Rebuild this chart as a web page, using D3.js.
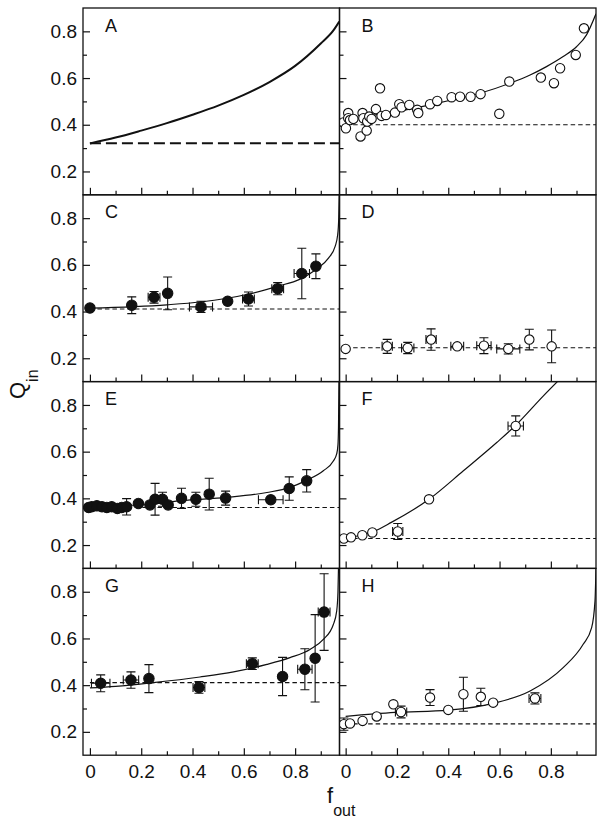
<!DOCTYPE html>
<html><head><meta charset="utf-8">
<script src="https://cdn.jsdelivr.net/npm/d3@7"></script>
<style>body{margin:0;background:#fff}svg{display:block}text{font-family:"Liberation Sans",Arial,Helvetica,sans-serif;fill:#111}</style>
</head><body>
<script>
// ---------- data ----------
const panelLabels = ["A","B","C","D","E","F","G","H"];
const filledPanels = ["C","E","G"];
const dashLevels = [0.321, 0.40, 0.411, 0.245, 0.361, 0.228, 0.411, 0.234];
const xTickLabels = [0, 0.2, 0.4, 0.6, 0.8];
const xMinorTicks = [0.1, 0.3, 0.5, 0.7, 0.9];
const yTickLabels = [0.2, 0.4, 0.6, 0.8];
const yMinorTicks = [0.3, 0.5, 0.7];

const curveA = [[0,0.32],[0.1,0.345],[0.2,0.375],[0.3,0.407],[0.4,0.443],[0.5,0.482],[0.6,0.528],[0.7,0.583],[0.8,0.652],[0.9,0.748],[0.95,0.805],[0.972,0.842]];
const curveB = [[0,0.41],[0.069,0.432],[0.199,0.456],[0.329,0.485],[0.413,0.506],[0.524,0.535],[0.641,0.578],[0.719,0.613],[0.783,0.649],[0.848,0.692],[0.9,0.734],[0.939,0.785],[0.976,0.875]];
const curveC = [[0,0.415],[0.3,0.429],[0.43,0.441],[0.62,0.475],[0.73,0.508],[0.82,0.539],[0.88,0.579],[0.93,0.629],[0.956,0.679],[0.966,0.73],[0.970,0.8],[0.972,0.9]];
const curveD = [];
const curveE = [[0,0.361],[0.127,0.368],[0.255,0.378],[0.357,0.39],[0.533,0.404],[0.69,0.425],[0.78,0.447],[0.84,0.475],[0.91,0.518],[0.949,0.56],[0.962,0.59],[0.967,0.63],[0.969,0.7],[0.970,0.8],[0.971,0.9]];
const curveF = [[0,0.228],[0.05,0.24],[0.108,0.258],[0.178,0.297],[0.325,0.396],[0.459,0.518],[0.589,0.639],[0.663,0.713],[0.77,0.838],[0.83,0.905]];
const curveG = [[0,0.388],[0.1,0.395],[0.247,0.411],[0.429,0.435],[0.56,0.457],[0.69,0.489],[0.78,0.518],[0.858,0.553],[0.91,0.596],[0.949,0.66],[0.962,0.717],[0.967,0.8],[0.969,0.9]];
const curveH = [[0,0.266],[0.192,0.283],[0.4,0.293],[0.575,0.322],[0.719,0.375],[0.848,0.475],[0.926,0.575],[0.959,0.646],[0.972,0.76],[0.976,0.9]];

// points: [f_out, Q_in, xErr, yErr]
const pointsA = [];
const pointsB = [[-0.009,0.41,0,0],[0.001,0.385,0,0],[0.01,0.45,0,0],[0.01,0.428,0,0],[0.017,0.42,0,0],[0.03,0.425,0,0],[0.058,0.35,0,0],[0.066,0.45,0,0],[0.069,0.428,0,0],[0.082,0.375,0,0],[0.084,0.414,0,0],[0.092,0.435,0,0],[0.101,0.425,0,0],[0.118,0.467,0,0],[0.134,0.556,0,0],[0.14,0.438,0,0],[0.157,0.442,0,0],[0.192,0.452,0,0],[0.209,0.488,0,0],[0.218,0.475,0,0],[0.248,0.485,0,0],[0.279,0.464,0,0],[0.283,0.45,0,0],[0.329,0.488,0,0],[0.357,0.502,0,0],[0.413,0.518,0,0],[0.446,0.52,0,0],[0.487,0.52,0,0],[0.526,0.531,0,0],[0.599,0.447,0,0],[0.638,0.585,0,0],[0.761,0.602,0,0],[0.812,0.578,0,0],[0.836,0.642,0,0],[0.897,0.699,0,0],[0.929,0.813,0,0]];
const pointsC = [[0,0.415,0,0],[0.163,0.427,0,0.036],[0.25,0.461,0.023,0.025],[0.303,0.478,0,0.07],[0.433,0.42,0.045,0.024],[0.537,0.444,0,0],[0.618,0.454,0.023,0.03],[0.732,0.498,0.023,0.026],[0.826,0.563,0.03,0.108],[0.881,0.594,0,0.053]];
const pointsD = [[0,0.24,0,0],[0.162,0.251,0.02,0.03],[0.242,0.244,0.024,0.024],[0.333,0.28,0.02,0.046],[0.435,0.251,0.025,0],[0.539,0.254,0.028,0.034],[0.634,0.24,0.045,0.022],[0.716,0.28,0,0.044],[0.803,0.251,0,0.07]];
const pointsE = [[-0.005,0.361,0,0],[0.007,0.364,0,0],[0.027,0.368,0,0],[0.047,0.364,0,0],[0.066,0.361,0,0],[0.085,0.364,0,0],[0.107,0.357,0,0],[0.124,0.361,0,0],[0.143,0.364,0,0.035],[0.189,0.378,0,0],[0.234,0.372,0,0],[0.254,0.396,0,0.068],[0.283,0.396,0,0.03],[0.305,0.372,0,0],[0.357,0.4,0,0.043],[0.413,0.396,0,0.03],[0.465,0.418,0,0.068],[0.529,0.401,0,0.03],[0.705,0.394,0.048,0],[0.777,0.442,0,0.05],[0.845,0.475,0,0.048]];
const pointsF = [[-0.007,0.228,0,0],[0.021,0.233,0,0],[0.065,0.242,0,0],[0.104,0.254,0,0],[0.203,0.258,0.02,0.034],[0.325,0.396,0,0],[0.663,0.71,0.03,0.043]];
const pointsG = [[0.042,0.408,0.036,0.036],[0.16,0.422,0.03,0.035],[0.23,0.428,0,0.06],[0.425,0.39,0.023,0.025],[0.633,0.492,0.023,0.025],[0.751,0.437,0,0.082],[0.838,0.468,0.028,0.088],[0.878,0.515,0,0.187],[0.913,0.713,0.023,0.164]];
const pointsH = [[-0.007,0.233,0,0.026],[0.017,0.236,0,0],[0.066,0.247,0,0],[0.121,0.266,0,0],[0.186,0.318,0,0],[0.216,0.285,0.022,0.025],[0.329,0.347,0,0.034],[0.4,0.294,0,0],[0.459,0.361,0,0.073],[0.527,0.35,0,0.037],[0.575,0.325,0,0],[0.738,0.343,0.023,0.024]];

const curves = [curveA,curveB,curveC,curveD,curveE,curveF,curveG,curveH];
const points = [pointsA,pointsB,pointsC,pointsD,pointsE,pointsF,pointsG,pointsH];

// ---------- layout ----------
const W = 605, H = 826;
const colX = [[83, 339.5], [339.5, 596]];
const xDomains = [[-0.027, 0.973], [-0.024, 0.976]];
const top0 = 8, ph = 186.8;
const ink = "#111";

const svg = d3.select("body").append("svg").attr("width", W).attr("height", H);
const fmt = d => d === 0 ? "0" : d3.format(".1f")(d);

panelLabels.forEach((lab, i) => {
  const row = Math.floor(i / 2), col = i % 2;
  const t = top0 + row * ph, b = t + ph;
  const x = d3.scaleLinear().domain(xDomains[col]).range(colX[col]);
  const y = d3.scaleLinear().domain([0.1, 0.9]).range([b, t]);
  const g = svg.append("g");
  const cid = "clip" + i;
  svg.append("clipPath").attr("id", cid).append("rect")
    .attr("x", colX[col][0]).attr("y", t).attr("width", colX[col][1] - colX[col][0]).attr("height", ph);

  const styleAxis = sel => { sel.select(".domain").remove(); sel.selectAll("line").attr("stroke", ink).attr("stroke-width", 1.2); sel.selectAll("text").attr("font-size", 19).attr("fill", ink).attr("font-family", '"Liberation Sans",Arial,sans-serif'); };
  g.append("g").attr("transform", `translate(0,${b})`)
    .call(d3.axisBottom(x).tickValues(xTickLabels).tickSizeInner(-7).tickSizeOuter(0).tickPadding(9).tickFormat(row === 3 ? fmt : () => ""))
    .call(styleAxis);
  g.append("g").attr("transform", `translate(0,${b})`)
    .call(d3.axisBottom(x).tickValues(xMinorTicks).tickSizeInner(-4).tickSizeOuter(0).tickFormat(() => ""))
    .call(styleAxis);
  g.append("g").attr("transform", `translate(${colX[col][0]},0)`)
    .call(d3.axisLeft(y).tickValues(yTickLabels).tickSizeInner(-7).tickSizeOuter(0).tickPadding(6).tickFormat(col === 0 ? fmt : () => ""))
    .call(styleAxis);
  g.append("g").attr("transform", `translate(${colX[col][0]},0)`)
    .call(d3.axisLeft(y).tickValues(yMinorTicks).tickSizeInner(-4).tickSizeOuter(0).tickFormat(() => ""))
    .call(styleAxis);

  const inner = g.append("g").attr("clip-path", `url(#${cid})`);
  const thick = i === 0;
  inner.append("line")
    .attr("x1", x(0)).attr("x2", x(xDomains[col][1]))
    .attr("y1", y(dashLevels[i])).attr("y2", y(dashLevels[i]))
    .attr("stroke", ink).attr("stroke-width", thick ? 2 : 1.1)
    .attr("stroke-dasharray", thick ? "11,5" : "4.5,3");
  if (curves[i].length) {
    inner.append("path").datum(curves[i])
      .attr("d", d3.line().x(d => x(d[0])).y(d => y(d[1])).curve(d3.curveMonotoneX))
      .attr("fill", "none").attr("stroke", ink).attr("stroke-width", thick ? 2 : 1.2);
  }
  const cap = 4.5;
  const eb = inner.append("g").attr("stroke", ink).attr("stroke-width", 1.1);
  points[i].forEach(p => {
    const [f, q, ex, ey] = p;
    if (ey > 0) {
      eb.append("line").attr("x1", x(f)).attr("x2", x(f)).attr("y1", y(q - ey)).attr("y2", y(q + ey));
      eb.append("line").attr("x1", x(f) - cap).attr("x2", x(f) + cap).attr("y1", y(q - ey)).attr("y2", y(q - ey));
      eb.append("line").attr("x1", x(f) - cap).attr("x2", x(f) + cap).attr("y1", y(q + ey)).attr("y2", y(q + ey));
    }
    if (ex > 0) {
      eb.append("line").attr("x1", x(f - ex)).attr("x2", x(f + ex)).attr("y1", y(q)).attr("y2", y(q));
      eb.append("line").attr("x1", x(f - ex)).attr("x2", x(f - ex)).attr("y1", y(q) - cap).attr("y2", y(q) + cap);
      eb.append("line").attr("x1", x(f + ex)).attr("x2", x(f + ex)).attr("y1", y(q) - cap).attr("y2", y(q) + cap);
    }
  });
  const filled = filledPanels.includes(lab);
  inner.selectAll("circle.pt").data(points[i]).join("circle")
    .attr("class", "pt")
    .attr("cx", d => x(d[0])).attr("cy", d => y(d[1]))
    .attr("r", filled ? 5.2 : 4.7)
    .attr("fill", filled ? ink : "#fff")
    .attr("stroke", ink).attr("stroke-width", 1.1);

  g.append("rect").attr("x", colX[col][0]).attr("y", t)
    .attr("width", colX[col][1] - colX[col][0]).attr("height", ph)
    .attr("fill", "none").attr("stroke", ink).attr("stroke-width", 1.3);

  g.append("text").attr("x", colX[col][0] + 22).attr("y", t + 23.5)
    .attr("font-size", 18).text(lab);
});

const yt = svg.append("text").attr("transform", "translate(25,399) rotate(-90)").attr("font-size", 22);
yt.append("tspan").text("Q");
yt.append("tspan").attr("font-size", 16).attr("dy", 13).text("in");

const xt = svg.append("text").attr("x", 327).attr("y", 803).attr("font-size", 22);
xt.append("tspan").text("f");
xt.append("tspan").attr("font-size", 16).attr("dy", 13).text("out");
</script>
</body></html>
